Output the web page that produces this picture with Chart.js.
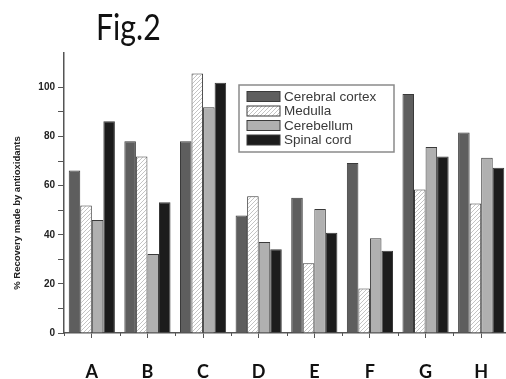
<!DOCTYPE html>
<html><head><meta charset="utf-8">
<script src="https://cdn.jsdelivr.net/npm/chart.js@4.4.1/dist/chart.umd.min.js"></script>
<style>
html,body{margin:0;padding:0;background:#fff;overflow:hidden}
#wrap{position:relative;width:506px;height:379px;overflow:hidden}
#c{position:absolute;left:0;top:0}
#fig{position:absolute;left:96px;top:4px;font-family:Lato,sans-serif;font-size:36px;color:#111;transform:scaleX(0.84);transform-origin:left top;white-space:nowrap}
</style></head>
<body>
<div id="wrap">
<canvas id="c" width="520" height="379" style="width:520px;height:379px"></canvas>
<div id="fig">Fig.2</div>
</div>
<script>
const categories = ['A','B','C','D','E','F','G','H'];
const seriesNames = ['Cerebral cortex','Medulla','Cerebellum','Spinal cord'];
const cerebralCortex = [66.2, 78.1, 78.1, 47.8, 55.1, 69.2, 97.3, 81.6];
const medulla        = [51.9, 71.9, 105.7, 55.7, 28.4, 18.1, 58.4, 52.7];
const cerebellum     = [46.0, 32.2, 91.9, 37.0, 50.5, 38.6, 75.7, 71.4];
const spinalCord     = [86.2, 53.2, 101.9, 34.1, 40.8, 33.5, 71.9, 67.3];
const yTicks = [0, 20, 40, 60, 80, 100];
const yAxisTitle = '% Recovery made by antioxidants';

function hatch(){
  const p = document.createElement('canvas');
  p.width = 4; p.height = 4;
  const g = p.getContext('2d');
  g.fillStyle = '#ffffff'; g.fillRect(0,0,4,4);
  g.strokeStyle = '#c4c4c4'; g.lineWidth = 1;
  g.beginPath();
  g.moveTo(-1,5); g.lineTo(5,-1);
  g.moveTo(-1,1); g.lineTo(1,-1);
  g.moveTo(3,5); g.lineTo(5,3);
  g.stroke();
  return document.getElementById('c').getContext('2d').createPattern(p,'repeat');
}
const hatchPat = hatch();
const fills = ['#5e5e5e', hatchPat, '#b0b0b0', '#1c1c1c'];
const values = [cerebralCortex, medulla, cerebellum, spinalCord];

const legendPlugin = {
  id: 'boxLegend',
  afterDraw(chart){
    const ctx = chart.ctx;
    const ca = chart.chartArea;
    const x0 = ca.left + 175, y0 = ca.top + 32, w = 155, h = 67;
    ctx.save();
    ctx.fillStyle = '#ffffff';
    ctx.fillRect(x0, y0, w, h);
    ctx.strokeStyle = '#8a8a8a'; ctx.lineWidth = 1.5;
    ctx.strokeRect(x0, y0, w, h);
    ctx.font = '13.5px "Liberation Sans", Arial, sans-serif';
    ctx.textBaseline = 'middle';
    chart.data.datasets.forEach((ds, i) => {
      const cy = y0 + 11.5 + i * 14.5;
      ctx.fillStyle = ds.backgroundColor;
      ctx.fillRect(x0 + 8, cy - 5, 33, 10);
      ctx.strokeStyle = '#3a3a3a'; ctx.lineWidth = 1;
      ctx.strokeRect(x0 + 8, cy - 5, 33, 10);
      ctx.fillStyle = '#3a3a3a';
      ctx.fillText(ds.label, x0 + 45, cy + 0.5);
    });
    ctx.restore();
  }
};

const extrasPlugin = {
  id: 'extras',
  afterDraw(chart){
    const ctx = chart.ctx;
    const ca = chart.chartArea;
    const xs = chart.scales.x;
    // minor ticks at category boundaries
    ctx.save();
    ctx.strokeStyle = '#555'; ctx.lineWidth = 1;
    const n = chart.data.labels.length;
    const half = (xs.getPixelForValue(1) - xs.getPixelForValue(0)) / 2;
    ctx.beginPath();
    for (let i = 0; i <= n; i++) {
      const px = Math.round(xs.getPixelForValue(i) - half) + 0.5;
      ctx.moveTo(px, ca.bottom); ctx.lineTo(px, ca.bottom + 3);
    }
    ctx.stroke();
    // y-axis title
    ctx.translate(17, ca.bottom - 120);
    ctx.rotate(-Math.PI/2);
    ctx.font = 'bold 9.5px "Liberation Sans", Arial, sans-serif';
    ctx.fillStyle = '#222';
    ctx.textAlign = 'center';
    ctx.textBaseline = 'middle';
    ctx.fillText(yAxisTitle, 0, 0);
    ctx.restore();
  }
};

new Chart(document.getElementById('c'), {
  type: 'bar',
  data: {
    labels: categories,
    datasets: seriesNames.map((n, i) => ({
      label: n,
      data: values[i],
      backgroundColor: fills[i],
      borderColor: '#3a3a3a',
      borderWidth: 1,
      categoryPercentage: 0.83,
      barPercentage: 1.0
    }))
  },
  options: {
    responsive: false,
    devicePixelRatio: 1,
    animation: false,
    layout: { padding: { top: 53, right: 11, left: 0, bottom: 0 } },
    plugins: { legend: { display: false }, tooltip: { enabled: false }, title: { display: false } },
    scales: {
      x: {
        offset: true,
        afterFit(s){ s.height = 46; },
        grid: { offset: false, drawOnChartArea: false, drawTicks: true, tickLength: 5, color: '#555' },
        border: { color: '#555', width: 1.5 },
        ticks: { padding: 23, color: '#111', font: { family: 'Lato, sans-serif', size: 18, weight: 'bold' } }
      },
      y: {
        min: 0, max: 114,
        afterFit(s){ s.width = 64; },
        afterBuildTicks(s){ s.ticks = s.ticks.filter(t => t.value % 10 === 0); },
        grid: { drawOnChartArea: false, drawTicks: true, tickLength: 6, color: '#555' },
        border: { color: '#555', width: 1.5 },
        ticks: {
          stepSize: 10, padding: 3, color: '#222',
          font: { family: '"Liberation Sans", Arial, sans-serif', size: 10, weight: 'bold' },
          callback: v => yTicks.includes(v) ? String(v) : ''
        }
      }
    }
  },
  plugins: [legendPlugin, extrasPlugin]
});
</script>
</body></html>
